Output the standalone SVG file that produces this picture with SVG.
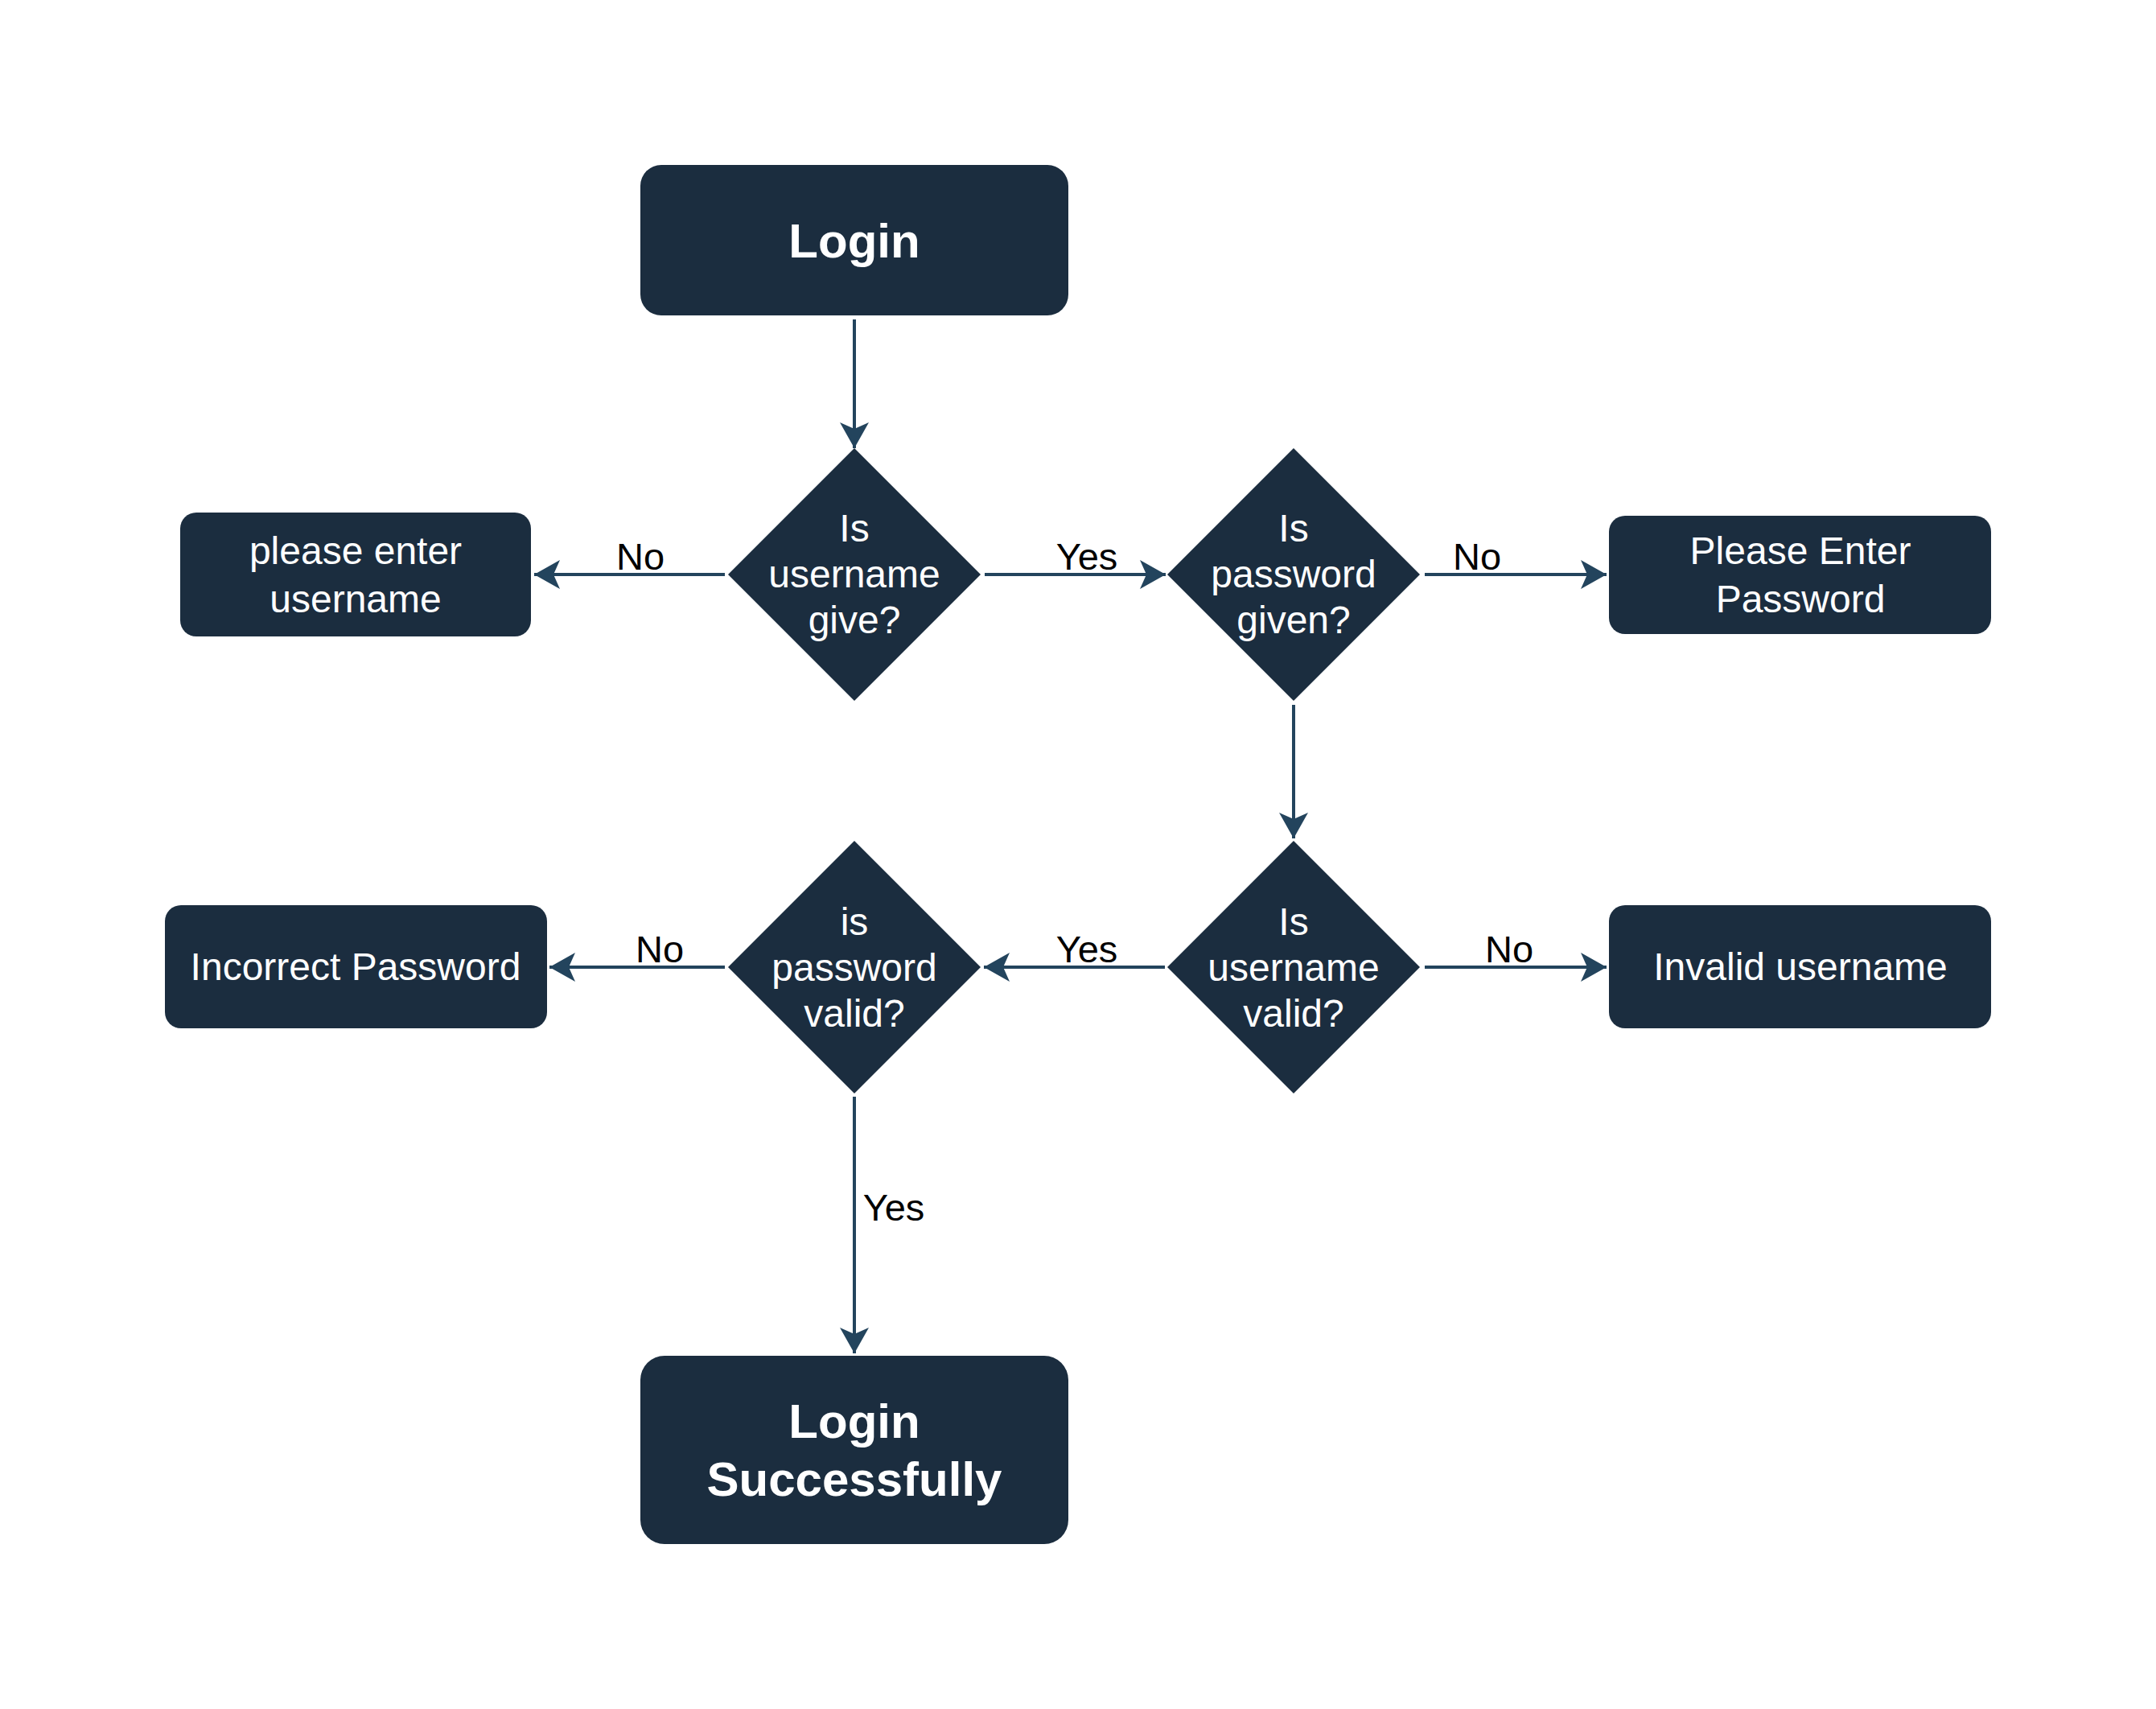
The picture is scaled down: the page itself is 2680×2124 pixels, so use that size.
<svg xmlns="http://www.w3.org/2000/svg" width="2680" height="2124" viewBox="0 0 2680 2124">
<style>
.node{fill:#1B2D3F}
.t{font-family:"Liberation Sans",Arial,sans-serif;fill:#FFFFFF;font-size:48px;text-anchor:middle}
.tb{font-family:"Liberation Sans",Arial,sans-serif;fill:#FFFFFF;font-size:60px;font-weight:bold;text-anchor:middle}
.lbl{font-family:"Liberation Sans",Arial,sans-serif;fill:#000000;font-size:47px;text-anchor:middle}
.edge{stroke:#23445D;stroke-width:4;fill:none;marker-end:url(#arr)}
</style>
<defs>
<marker id="arr" viewBox="0 0 32 36" refX="32" refY="18" markerWidth="32" markerHeight="36" markerUnits="userSpaceOnUse" orient="auto">
<path d="M0,0 L32,18 L0,36 L8,18 Z" fill="#23445D"/>
</marker>
</defs>
<rect width="2680" height="2124" fill="#FFFFFF"/>
<g id="connectors">
<line class="edge" x1="1062" y1="397" x2="1062" y2="557"/>
<line class="edge" x1="901" y1="714" x2="664" y2="714"/>
<line class="edge" x1="1224" y1="714" x2="1449" y2="714"/>
<line class="edge" x1="1771" y1="714" x2="1997" y2="714"/>
<line class="edge" x1="1608" y1="876" x2="1608" y2="1042"/>
<line class="edge" x1="1771" y1="1202" x2="1997" y2="1202"/>
<line class="edge" x1="1448" y1="1202" x2="1223" y2="1202"/>
<line class="edge" x1="901" y1="1202" x2="683" y2="1202"/>
<line class="edge" x1="1062" y1="1363" x2="1062" y2="1682"/>
<text class="lbl" x="796" y="708">No</text>
<text class="lbl" x="1351" y="708">Yes</text>
<text class="lbl" x="1836" y="708">No</text>
<text class="lbl" x="1876" y="1196">No</text>
<text class="lbl" x="1351" y="1196">Yes</text>
<text class="lbl" x="820" y="1196">No</text>
<text class="lbl" x="1111" y="1517">Yes</text>
</g>
<g id="login">
<rect class="node" x="796" y="205" width="532" height="187" rx="26"/>
<text class="tb" x="1062" y="320">Login</text>
</g>
<g id="d_username_given">
<polygon class="node" points="1062,557 1219,714 1062,871 905,714"/>
<text class="t" x="1062" y="673">Is</text>
<text class="t" x="1062" y="730">username</text>
<text class="t" x="1062" y="787">give?</text>
</g>
<g id="enter_username">
<rect class="node" x="224" y="637" width="436" height="154" rx="20"/>
<text class="t" x="442" y="701">please enter</text>
<text class="t" x="442" y="761">username</text>
</g>
<g id="d_password_given">
<polygon class="node" points="1608,557 1765,714 1608,871 1451,714"/>
<text class="t" x="1608" y="673">Is</text>
<text class="t" x="1608" y="730">password</text>
<text class="t" x="1608" y="787">given?</text>
</g>
<g id="enter_password">
<rect class="node" x="2000" y="641" width="475" height="147" rx="20"/>
<text class="t" x="2238" y="701">Please Enter</text>
<text class="t" x="2238" y="761">Password</text>
</g>
<g id="d_username_valid">
<polygon class="node" points="1608,1045 1765,1202 1608,1359 1451,1202"/>
<text class="t" x="1608" y="1162">Is</text>
<text class="t" x="1608" y="1219">username</text>
<text class="t" x="1608" y="1276">valid?</text>
</g>
<g id="invalid_username">
<rect class="node" x="2000" y="1125" width="475" height="153" rx="20"/>
<text class="t" x="2238" y="1218">Invalid username</text>
</g>
<g id="d_password_valid">
<polygon class="node" points="1062,1045 1219,1202 1062,1359 905,1202"/>
<text class="t" x="1062" y="1162">is</text>
<text class="t" x="1062" y="1219">password</text>
<text class="t" x="1062" y="1276">valid?</text>
</g>
<g id="incorrect_password">
<rect class="node" x="205" y="1125" width="475" height="153" rx="20"/>
<text class="t" x="442" y="1218">Incorrect Password</text>
</g>
<g id="login_success">
<rect class="node" x="796" y="1685" width="532" height="234" rx="30"/>
<text class="tb" x="1062" y="1787">Login</text>
<text class="tb" x="1062" y="1859">Successfully</text>
</g>
</svg>
